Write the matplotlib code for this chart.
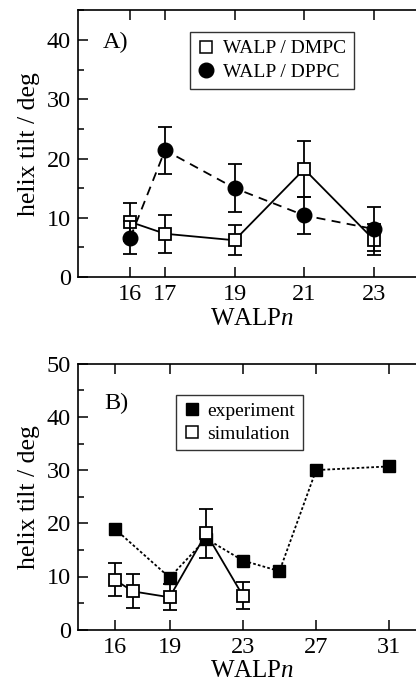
import numpy as np
import matplotlib
matplotlib.use("Agg")
import matplotlib.pyplot as plt
from matplotlib.lines import Line2D
from matplotlib.ticker import MultipleLocator

plt.rcParams["font.family"] = ["Liberation Serif", "DejaVu Serif"]
plt.rcParams["mathtext.fontset"] = "custom"
plt.rcParams["mathtext.rm"] = "Liberation Serif"
plt.rcParams["mathtext.it"] = "Liberation Serif:italic"

# panel A: simulated tilt in DMPC and DPPC
n_dmpc = [16, 17, 19, 21, 23]
tilt_dmpc = [9.3, 7.3, 6.2, 18.2, 6.3]
err_dmpc = [3.2, 3.2, 2.5, 4.7, 2.6]

n_dppc = [16, 17, 19, 21, 23]
tilt_dppc = [6.6, 21.4, 15.0, 10.4, 8.1]
err_dppc = [2.8, 4.0, 4.1, 3.1, 3.7]

# panel B: experiment vs simulation
n_exp = [16, 19, 21, 23, 25, 27, 31]
tilt_exp = [19.0, 9.8, 17.1, 13.0, 11.0, 30.0, 30.7]

n_sim = [16, 17, 19, 21, 23]
tilt_sim = [9.4, 7.2, 6.1, 18.1, 6.4]
err_sim = [3.1, 3.2, 2.4, 4.6, 2.6]

W, H = 416, 686
fig = plt.figure(figsize=(W / 100, H / 100), dpi=100)

axA = fig.add_axes([78 / W, (H - 277) / H, 348 / W, 266.6 / H])
axB = fig.add_axes([78 / W, (H - 629.7) / H, 348 / W, 266 / H])

lw = 1.3
eb = dict(color="black", ecolor="black", elinewidth=lw, capsize=5, capthick=lw, lw=lw)

# --- A ---
axA.errorbar(n_dmpc, tilt_dmpc, yerr=err_dmpc, marker="s", ms=8.5, mfc="white",
             mec="black", mew=lw, ls="-", zorder=3, **eb)
axA.errorbar(n_dppc, tilt_dppc, yerr=err_dppc, marker="o", ms=10.5, mfc="black",
             mec="black", ls=(0, (5, 3.5)), zorder=4, **eb)
axA.set_xlim(14.5, 24.5)
axA.set_ylim(0, 45)
axA.set_xticks([16, 17, 19, 21, 23])
axA.yaxis.set_major_locator(MultipleLocator(10))
axA.yaxis.set_minor_locator(MultipleLocator(5))
axA.text(0.07, 0.88, "A)", transform=axA.transAxes, fontsize=17.5, va="center")
hA = [Line2D([], [], ls="none", marker="s", ms=8, mfc="white", mec="black", mew=1.1),
      Line2D([], [], ls="none", marker="o", ms=10.5, mfc="black", mec="black")]
legA = axA.legend(hA, ["WALP / DMPC", "WALP / DPPC"], loc="upper left",
                  bbox_to_anchor=(0.322, 0.919), borderaxespad=0, fontsize=14,
                  frameon=True, fancybox=False, edgecolor="black", handlelength=0.8,
                  handletextpad=0.5, borderpad=0.4, labelspacing=0.3)
legA.get_frame().set_linewidth(1.0)

# --- B ---
axB.plot(n_exp, tilt_exp, marker="s", ms=9, mfc="black", mec="black", color="black",
         lw=lw, ls=(0, (1.5, 1.2)), zorder=3)
axB.errorbar(n_sim, tilt_sim, yerr=err_sim, marker="s", ms=8.5, mfc="white",
             mec="black", mew=lw, ls="-", zorder=4, **eb)
axB.set_xlim(14, 33)
axB.set_ylim(0, 50)
axB.set_xticks([16, 19, 23, 27, 31])
axB.yaxis.set_major_locator(MultipleLocator(10))
axB.yaxis.set_minor_locator(MultipleLocator(5))
axB.text(0.075, 0.85, "B)", transform=axB.transAxes, fontsize=17.5, va="center")
hB = [Line2D([], [], ls="none", marker="s", ms=8, mfc="black", mec="black"),
      Line2D([], [], ls="none", marker="s", ms=8, mfc="white", mec="black", mew=1.1)]
legB = axB.legend(hB, ["experiment", "simulation"], loc="upper left",
                  bbox_to_anchor=(0.282, 0.8835), borderaxespad=0, fontsize=14,
                  frameon=True, fancybox=False, edgecolor="black", handlelength=0.8,
                  handletextpad=0.4, borderpad=0.4, labelspacing=0.25)
legB.get_frame().set_linewidth(1.0)

for ax in (axA, axB):
    ax.set_xlabel("WALP$n$", fontsize=18, labelpad=2)
    ax.set_ylabel("helix tilt / deg", fontsize=18.5, labelpad=5)
    ax.tick_params(which="major", direction="in", length=7, width=1.1,
                   labelsize=17.5, top=True, right=False, pad=5)
    ax.tick_params(which="minor", direction="in", length=4, width=1.1,
                   top=False, right=False)
    ax.xaxis.set_minor_locator(plt.NullLocator())
    for s in ax.spines.values():
        s.set_linewidth(1.2)

fig.savefig("out.png", dpi=100)
